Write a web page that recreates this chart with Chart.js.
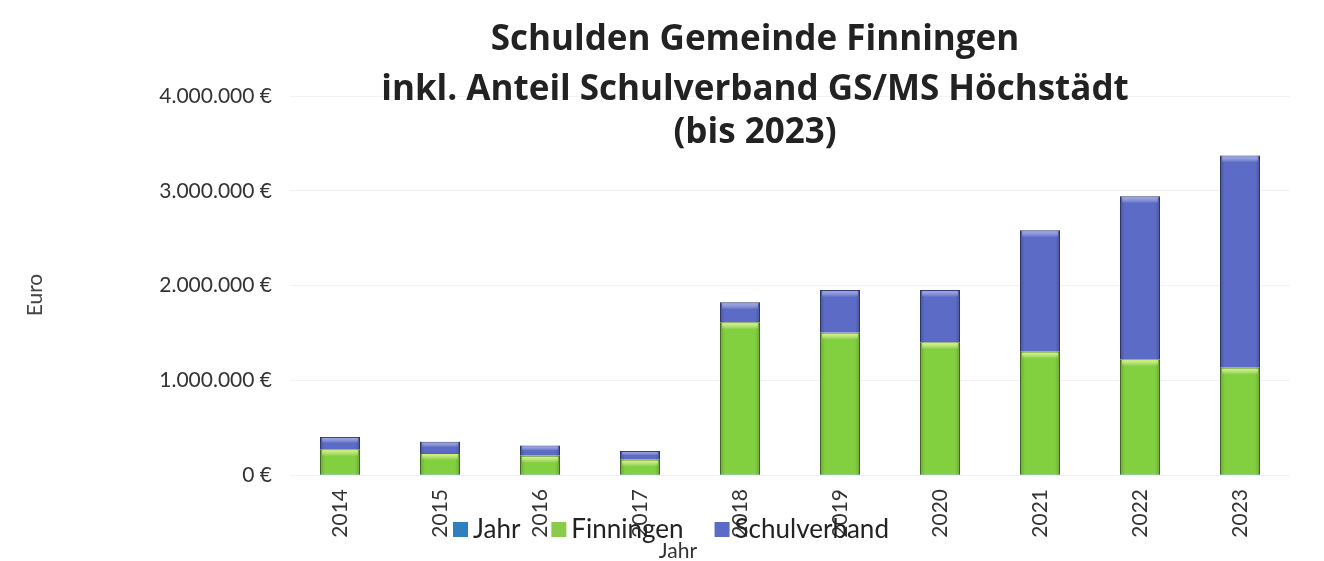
<!DOCTYPE html>
<html>
<head>
<meta charset="utf-8">
<script src="https://cdn.jsdelivr.net/npm/chart.js@4/dist/chart.umd.min.js"></script>
<style>
  body { margin: 0; background: #fff; }
  #wrap { width: 1324px; height: 561px; }
</style>
</head>
<body>
<div id="wrap"><canvas id="debtChart"></canvas></div>
<script>
const years = ['2014', '2015', '2016', '2017', '2018', '2019', '2020', '2021', '2022', '2023'];
// Excel hat die Jahreszahlen als eigene Reihe mitgestapelt (unsichtbar klein)
const jahr = [2014, 2015, 2016, 2017, 2018, 2019, 2020, 2021, 2022, 2023];
const finningen = [270000, 230000, 200000, 160000, 1610000, 1500000, 1400000, 1300000, 1220000, 1130000];
const schulverband = [130000, 120000, 110000, 90000, 210000, 450000, 550000, 1280000, 1720000, 2240000];
const yTicks = [0, 1000000, 2000000, 3000000, 4000000];
const titleLines = ['Schulden Gemeinde Finningen', 'inkl. Anteil Schulverband GS/MS Höchstädt', '(bis 2023)'];

const FONT = 'Lato, "Open Sans", sans-serif';

function euro(v) {
    return String(Math.round(v)).replace(/\B(?=(\d{3})+(?!\d))/g, '.') + ' €';
}

// leichter 3D-Effekt wie im Excel-Diagramm
const shadePlugin = {
    id: 'shade',
    afterDatasetsDraw(chart) {
        const ctx = chart.ctx;
        chart.data.datasets.forEach((ds, di) => {
            if (!ds.shade) return;
            chart.getDatasetMeta(di).data.forEach(bar => {
                const left = bar.x - bar.width / 2;
                const top = Math.min(bar.y, bar.base);
                const h = Math.abs(bar.base - bar.y);
                const g = ctx.createLinearGradient(left, 0, left + bar.width, 0);
                g.addColorStop(0, 'rgba(0,0,0,0.2)');
                g.addColorStop(0.12, 'rgba(0,0,0,0)');
                g.addColorStop(0.88, 'rgba(0,0,0,0)');
                g.addColorStop(1, 'rgba(0,0,0,0.2)');
                ctx.save();
                ctx.fillStyle = g;
                ctx.fillRect(left, top, bar.width, h);
                const hb = Math.min(7, h / 2);
                const v = ctx.createLinearGradient(0, top, 0, top + hb);
                v.addColorStop(0, ds.shade);
                v.addColorStop(1, 'rgba(255,255,255,0)');
                ctx.fillStyle = v;
                ctx.fillRect(left + 2, top + 1, bar.width - 4, hb);
                ctx.restore();
            });
        });
    }
};

// Titel, Legende und Achsentitel liegen im Original frei über dem Diagramm
const overlayPlugin = {
    id: 'overlay',
    afterDraw(chart) {
        const ctx = chart.ctx;
        ctx.save();
        ctx.fillStyle = '#222';
        ctx.textAlign = 'center';
        ctx.textBaseline = 'alphabetic';
        ctx.font = 'bold 35px "Open Sans", sans-serif';
        const baselines = [50, 100, 143];
        titleLines.forEach((t, i) => ctx.fillText(t, 755, baselines[i]));

        // Legende
        ctx.font = '26px ' + FONT;
        ctx.textAlign = 'left';
        ctx.textBaseline = 'middle';
        let x = 453;
        const y = 530;
        chart.data.datasets.forEach(ds => {
            ctx.fillStyle = ds.legendColor;
            ctx.fillRect(x, y - 8, 15, 15);
            ctx.fillStyle = '#222';
            ctx.fillText(ds.label, x + 20, y);
            x += 20 + ctx.measureText(ds.label).width + 31;
        });

        // x-Achsentitel
        ctx.textBaseline = 'alphabetic';
        ctx.font = '21px ' + FONT;
        ctx.textAlign = 'center';
        ctx.fillStyle = '#333';
        ctx.fillText('Jahr', 678, 558);

        // y-Achsentitel
        ctx.translate(35, 295);
        ctx.rotate(-Math.PI / 2);
        ctx.textBaseline = 'middle';
        ctx.fillStyle = '#444';
        ctx.fillText('Euro', 0, 0);
        ctx.restore();
    }
};

new Chart(document.getElementById('debtChart'), {
    type: 'bar',
    data: {
        labels: years,
        datasets: [
            {
                label: 'Jahr',
                data: jahr,
                backgroundColor: '#2f7fc1',
                legendColor: '#2f7fc1',
                borderWidth: 0
            },
            {
                label: 'Finningen',
                data: finningen,
                backgroundColor: '#82cf3f',
                legendColor: '#8acb4c',
                borderColor: '#4f7f2c',
                borderWidth: 1,
                shade: 'rgba(235,250,110,0.95)'
            },
            {
                label: 'Schulverband',
                data: schulverband,
                backgroundColor: '#5c6bc6',
                legendColor: '#5c6bc6',
                borderColor: '#36407f',
                borderWidth: 1,
                shade: 'rgba(170,180,235,0.8)'
            }
        ]
    },
    options: {
        responsive: true,
        maintainAspectRatio: false,
        animation: false,
        layout: { padding: { top: 96, left: 21, right: 34, bottom: 0 } },
        datasets: { bar: { barPercentage: 0.5, categoryPercentage: 0.8 } },
        plugins: {
            legend: { display: false },
            title: { display: false },
            tooltip: { enabled: false }
        },
        scales: {
            x: {
                stacked: true,
                grid: { display: false, drawTicks: false },
                border: { display: false },
                ticks: {
                    minRotation: 90,
                    maxRotation: 90,
                    padding: 14,
                    color: '#333',
                    font: { family: FONT, size: 21 }
                },
                afterFit(scale) { scale.height = 86; }
            },
            y: {
                stacked: true,
                min: 0,
                max: 4000000,
                afterBuildTicks(scale) { scale.ticks = yTicks.map(v => ({ value: v })); },
                grid: { color: 'rgba(0,0,0,0.05)', drawTicks: false },
                border: { display: false },
                ticks: {
                    padding: 18,
                    color: '#333',
                    font: { family: FONT, size: 21 },
                    callback: v => euro(v)
                },
                afterFit(scale) { scale.width = 269; }
            }
        }
    },
    plugins: [shadePlugin, overlayPlugin]
});
</script>
</body>
</html>
